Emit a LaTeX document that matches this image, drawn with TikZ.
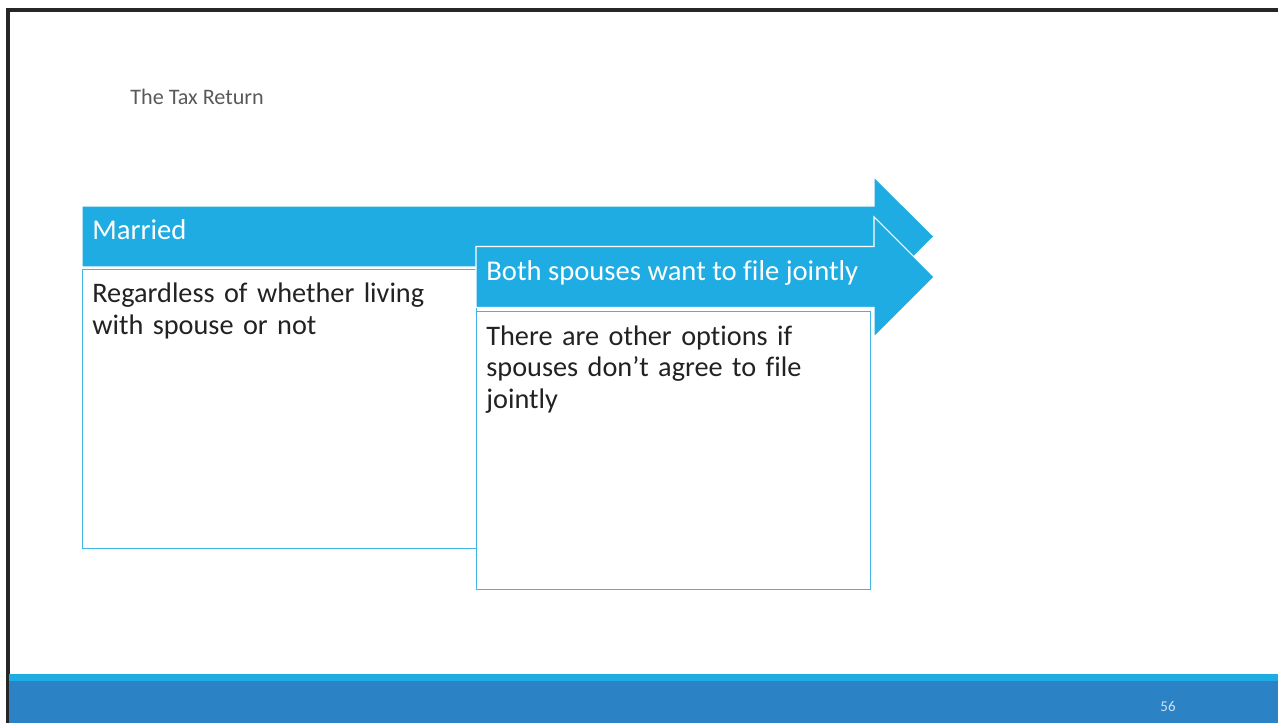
\documentclass[tikz,border=0pt]{standalone}
\usepackage{fontspec}
\setmainfont{Carlito}[Ligatures=NoCommon]
\usetikzlibrary{positioning}

\definecolor{barblue}{HTML}{1FACE2}
\definecolor{footblue}{HTML}{2B82C5}
\definecolor{edgeblue}{HTML}{41B5E6}
\definecolor{titlegray}{HTML}{595959}
\definecolor{bodyink}{HTML}{222222}
\definecolor{pagenum}{HTML}{CFE3F3}

\tikzstyle{chevron} = [fill=barblue, draw=white, line width=0.6pt, line join=miter]
\tikzstyle{headtext} = [anchor=base west, inner sep=0pt, text=white, font=\fontsize{16.3}{18}\selectfont]
\tikzstyle{bodybox} = [rectangle, anchor=north west, draw=edgeblue, line width=0.85pt, fill=white, inner sep=0pt]
\tikzstyle{bodytext} = [anchor=base west, inner sep=0pt, text width=7.5cm, align=left, text=bodyink, font=\fontsize{16.1}{18}\selectfont]

\begin{document}
\begin{tikzpicture}[x=0.02cm, y=-0.02cm]

  \useasboundingbox (0,0) rectangle (1278,723);

  % --- frame and footer --- %

  \draw [black!85, line width=1.8pt] (8,723) -- (8,10) -- (1278,10);
  \fill [barblue] (9,674) rectangle (1278,681);
  \fill [footblue] (9,681) rectangle (1278,723);

  \node (title) [anchor=base west, inner sep=0pt, text=titlegray, font=\fontsize{12.6}{14}\selectfont] at (130,105) {The Tax Return};
  \node (page) [inner sep=0pt, text=pagenum, font=\fontsize{8.5}{10}\selectfont] at (1168,707) {56};

  % --- first step --- %

  \filldraw [chevron] (82,206) -- (874,206) -- (874,177) -- (934,236.5) -- (874,296) -- (874,267) -- (82,267) -- cycle;
  \node (h1) [headtext] at (92,239) {Married};
  \node (b1) [bodybox, minimum width=7.88cm, minimum height=5.58cm] at (82,269) {};
  \node (t1) [bodytext] at (92,302.7) {Regardless of whether living with spouse or not};

  % --- second step --- %

  \filldraw [chevron] (476,246.5) -- (874,246.5) -- (874,217) -- (934,277) -- (874,337) -- (874,307.5) -- (476,307.5) -- cycle;
  \node (h2) [headtext] at (486,280) {Both spouses want to file jointly};
  \node (b2) [bodybox, minimum width=7.88cm, minimum height=5.56cm] at (476,311) {};
  \node (t2) [bodytext] at (486,345.3) {There are other options if spouses don’t agree to file jointly};

\end{tikzpicture}
\end{document}
